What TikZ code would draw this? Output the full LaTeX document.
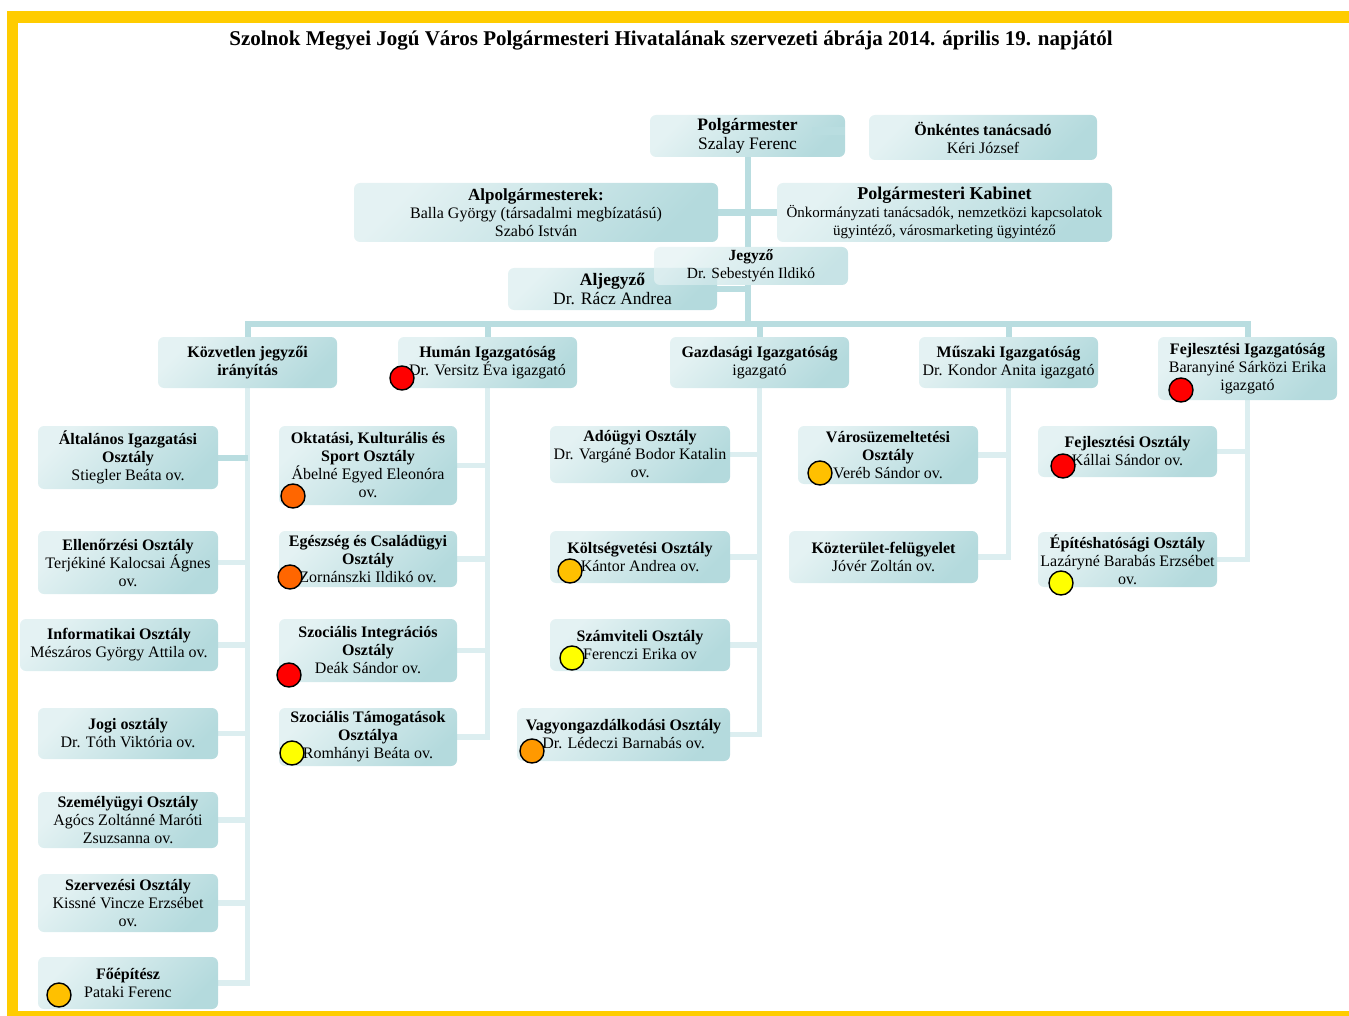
\documentclass[tikz,border=0pt]{standalone}
\usepackage{fontspec}
\setmainfont{Liberation Serif}
\usetikzlibrary{backgrounds}
\definecolor{framegold}{HTML}{FFCC00}
\definecolor{boxlight}{HTML}{E4F2F3}
\definecolor{boxdark}{HTML}{B4DADD}
\definecolor{busteal}{HTML}{B9DDE0}
\definecolor{subteal}{HTML}{DCEEF0}
\definecolor{dotred}{HTML}{FF0000}
\definecolor{dotorange}{HTML}{FF6600}
\definecolor{dotamber}{HTML}{FFC000}
\definecolor{dotyellow}{HTML}{FFFF00}
\definecolor{dotpeach}{HTML}{FF9900}

\begin{document}
\begin{tikzpicture}[x=1pt,y=-1pt,
  unit/.style={rectangle,rounded corners=6pt,inner sep=0pt,top color=boxlight,bottom color=boxdark,shading angle=45,align=center,font=\fontsize{16}{18}\selectfont},
  big/.style={unit,font=\fontsize{17.5}{19}\selectfont},
  bus/.style={draw=busteal,line width=6pt},
  sub/.style={draw=subteal,line width=5.5pt},
  mark/.style={circle,draw=black,line width=1.4pt,minimum size=24pt,inner sep=0pt,fill=#1}
]
\useasboundingbox (0,0) rectangle (1349,1016);
\fill[framegold] (7,11) rectangle (1349,23);
\fill[framegold] (7,11) rectangle (18,1016);
\fill[framegold] (7,1011) rectangle (1349,1016);

\node[font=\fontsize{21}{24}\selectfont\bfseries] (title) at (671,41) {Szolnok Megyei Jogú Város Polgármesteri Hivatalának szervezeti ábrája 2014. április 19. napjától};

% vezetés
\node[big,minimum width=195pt,minimum height=42pt] (pm) at (747.5,136) {\textbf{Polgármester}\\Szalay Ferenc};
\node[unit,minimum width=228pt,minimum height=45pt] (onk) at (983,137.5) {\textbf{Önkéntes tanácsadó}\\Kéri József};
\node[unit,minimum width=364pt,minimum height=59pt] (alp) at (536,212.5) {{\fontsize{17}{18}\selectfont\bfseries Alpolgármesterek:}\\Balla György (társadalmi megbízatású)\\Szabó István};
\node[unit,minimum width=335pt,minimum height=59pt,font=\fontsize{15}{18}\selectfont] (kab) at (944.5,212.5) {{\fontsize{18}{18}\selectfont\bfseries Polgármesteri Kabinet}\\Önkormányzati tanácsadók, nemzetközi kapcsolatok\\ügyintéző, városmarketing ügyintéző};
\node[big,minimum width=209pt,minimum height=42pt] (alj) at (612.5,289) {\textbf{Aljegyző}\\Dr. Rácz Andrea};
\node[unit,minimum width=194pt,minimum height=38pt,font=\fontsize{15.5}{18}\selectfont,fill opacity=0.75,text opacity=1] (jegy) at (751,266) {\textbf{Jegyző}\\Dr. Sebestyén Ildikó};

% igazgatóságok
\node[unit,minimum width=179pt,minimum height=51pt] (kozv) at (247.5,362.5) {\textbf{Közvetlen jegyzői}\\\textbf{irányítás}};
\node[unit,minimum width=179pt,minimum height=51pt] (human) at (487.5,362.5) {\textbf{Humán Igazgatóság}\\Dr. Versitz Éva igazgató};
\node[unit,minimum width=179pt,minimum height=51pt] (gazd) at (759.5,362.5) {\textbf{Gazdasági Igazgatóság}\\igazgató};
\node[unit,minimum width=179pt,minimum height=51pt] (musz) at (1008.5,362.5) {\textbf{Műszaki Igazgatóság}\\Dr. Kondor Anita igazgató};
\node[unit,minimum width=179pt,minimum height=63pt] (fejl) at (1247.5,368.5) {\textbf{Fejlesztési Igazgatóság}\\Baranyiné Sárközi Erika\\igazgató};

% közvetlen jegyzői irányítás
\node[unit,minimum width=180pt,minimum height=63pt] (altig) at (128,457.5) {\textbf{Általános Igazgatási}\\\textbf{Osztály}\\Stiegler Beáta ov.};
\node[unit,minimum width=180pt,minimum height=63pt] (ellen) at (128,562.5) {\textbf{Ellenőrzési Osztály}\\Terjékiné Kalocsai Ágnes\\ov.};
\node[unit,minimum width=198pt,minimum height=52pt] (info) at (119,645) {\textbf{Informatikai Osztály}\\Mészáros György Attila ov.};
\node[unit,minimum width=180pt,minimum height=51pt] (jogi) at (128,733.5) {\textbf{Jogi osztály}\\Dr. Tóth Viktória ov.};
\node[unit,minimum width=180pt,minimum height=56pt] (szemely) at (128,820) {\textbf{Személyügyi Osztály}\\Agócs Zoltánné Maróti\\Zsuzsanna ov.};
\node[unit,minimum width=180pt,minimum height=58pt] (szerv) at (128,903) {\textbf{Szervezési Osztály}\\Kissné Vincze Erzsébet\\ov.};
\node[unit,minimum width=180pt,minimum height=52pt] (fopep) at (128,983) {\textbf{Főépítész}\\Pataki Ferenc};

% humán
\node[unit,minimum width=178pt,minimum height=79pt] (okt) at (368,465.5) {\textbf{Oktatási, Kulturális és}\\\textbf{Sport Osztály}\\Ábelné Egyed Eleonóra\\ov.};
\node[unit,minimum width=178pt,minimum height=56pt] (egesz) at (368,559) {\textbf{Egészség és Családügyi}\\\textbf{Osztály}\\Zornánszki Ildikó ov.};
\node[unit,minimum width=178pt,minimum height=63pt] (szint) at (368,650.5) {\textbf{Szociális Integrációs}\\\textbf{Osztály}\\Deák Sándor ov.};
\node[unit,minimum width=178pt,minimum height=58pt] (sztam) at (368,737) {\textbf{Szociális Támogatások}\\\textbf{Osztálya}\\Romhányi Beáta ov.};

% gazdasági
\node[unit,minimum width=180pt,minimum height=57pt] (ado) at (640,454.5) {\textbf{Adóügyi Osztály}\\Dr. Vargáné Bodor Katalin\\ov.};
\node[unit,minimum width=180pt,minimum height=52pt] (kolts) at (640,557) {\textbf{Költségvetési Osztály}\\Kántor Andrea ov.};
\node[unit,minimum width=180pt,minimum height=52pt] (szamv) at (640,645) {\textbf{Számviteli Osztály}\\Ferenczi Erika ov};
\node[unit,minimum width=213pt,minimum height=53pt] (vagy) at (623.5,734.5) {\textbf{Vagyongazdálkodási Osztály}\\Dr. Lédeczi Barnabás ov.};

% műszaki
\node[unit,minimum width=180pt,minimum height=58pt] (varos) at (888,455) {\textbf{Városüzemeltetési}\\\textbf{Osztály}\\Veréb Sándor ov.};
\node[unit,minimum width=189pt,minimum height=52pt] (kozter) at (883.5,557) {\textbf{Közterület-felügyelet}\\Jóvér Zoltán ov.};

% fejlesztési
\node[unit,minimum width=179pt,minimum height=51pt] (fejlo) at (1127.5,451.5) {\textbf{Fejlesztési Osztály}\\Kállai Sándor ov.};
\node[unit,minimum width=179pt,minimum height=55pt] (epit) at (1127.5,559.5) {\textbf{Építéshatósági Osztály}\\Lazáryné Barabás Erzsébet\\ov.};

% jelölők
\node[mark=dotred] (mHuman) at (402,378) {};
\node[mark=dotred] (mFejl) at (1181,390) {};
\node[mark=dotorange] (mOkt) at (293,496) {};
\node[mark=dotorange] (mEgesz) at (290,577) {};
\node[mark=dotred] (mSzint) at (289,675) {};
\node[mark=dotyellow] (mSztam) at (292,753) {};
\node[mark=dotamber] (mFopep) at (59,995) {};
\node[mark=dotamber] (mKolts) at (570,571) {};
\node[mark=dotyellow] (mSzamv) at (572,658) {};
\node[mark=dotpeach] (mVagy) at (532,751) {};
\node[mark=dotamber] (mVaros) at (820,473) {};
\node[mark=dotred] (mFejlo) at (1063,466) {};
\node[mark=dotyellow] (mEpit) at (1061,583) {};

\draw[draw=busteal,line width=8pt] ([xshift=-33pt,yshift=5pt]pm.east) -- ([yshift=5pt]pm.east);

\begin{scope}[on background layer]
\coordinate (bus) at (0,323.5);
\draw[bus] (pm.south) -- (jegy.north -| pm.south);
\draw[bus] (jegy.south -| pm.south) -- (pm.south |- bus);
\draw[bus,line width=7pt] (alp.east) -- (kab.west);
\draw[bus] (alj.east) -- (alj.east -| pm.south);
\draw[bus] (kozv.north) -- (kozv.north |- bus) -- (fejl.north |- bus) -- (fejl.north);
\foreach \d in {human,gazd,musz}
  \draw[bus] (\d.north) -- (\d.north |- bus);
\foreach \d/\last in {kozv/fopep,human/sztam,gazd/vagy,musz/kozter,fejl/epit}
  \draw[sub] (\d.south) |- (\last.east);
\foreach \b/\d in {ellen/kozv,info/kozv,jogi/kozv,szemely/kozv,szerv/kozv,okt/human,egesz/human,szint/human,ado/gazd,kolts/gazd,szamv/gazd,varos/musz,fejlo/fejl}
  \draw[sub] (\b.east) -- (\b.east -| \d.south);
\draw[bus] (altig.east) -- (altig.east -| kozv.south);
\end{scope}
\end{tikzpicture}
\end{document}
